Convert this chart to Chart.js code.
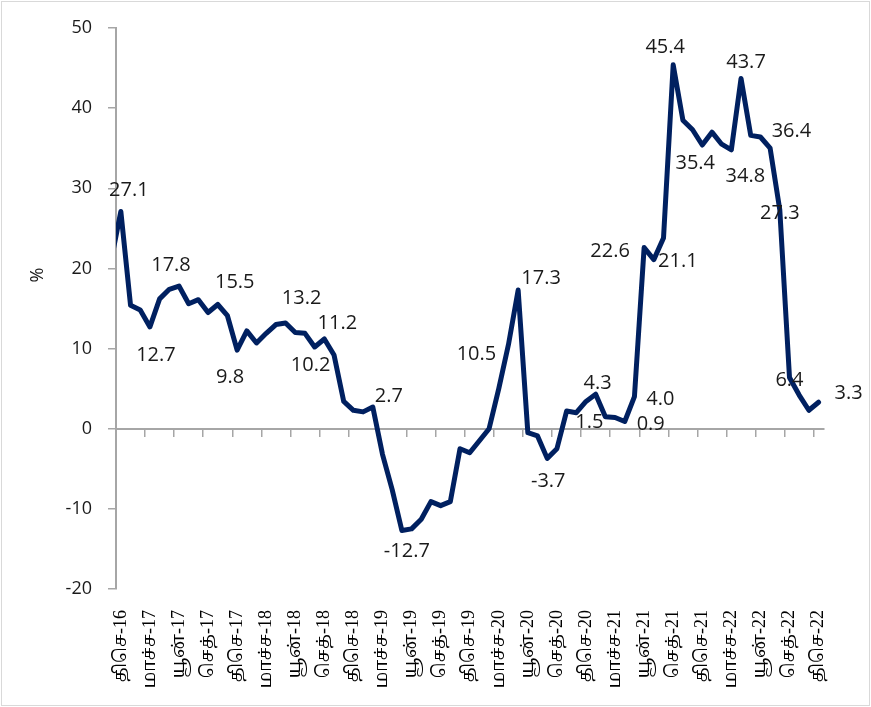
<!DOCTYPE html>
<html>
<head>
<meta charset="utf-8">
<script src="https://cdn.jsdelivr.net/npm/chart.js@4/dist/chart.umd.min.js"></script>
<style>
  html, body { margin: 0; padding: 0; background: #ffffff; }
  canvas { display: block; }
</style>
</head>
<body>
<canvas id="chart" width="871" height="707"></canvas>
<script>
// Month abbreviations, January to December
const monthNames = ['சன', 'பெப்', 'மாச்ச', 'ஏப்', 'மே', 'யூன்', 'யூலை', 'ஓக', 'செத்', 'ஒத்', 'நவ', 'திசெ'];

// Monthly categories from Nov-16 to Dec-22 (Nov-16 only leads the line into the axis)
const months = ['நவ-16', 'திசெ-16'];
for (let yy = 17; yy <= 22; yy++) {
  for (let m = 0; m < 12; m++) months.push(monthNames[m] + '-' + yy);
}

// Year-on-year change, %
const growth = [
  21.0,                                                             // Nov-16
  27.1,                                                             // Dec-16
  15.4, 14.8, 12.7, 16.2, 17.4, 17.8, 15.6, 16.1, 14.5, 15.5, 14.1, 9.8,      // 2017
  12.2, 10.7, 11.9, 13.0, 13.2, 12.0, 11.9, 10.2, 11.2, 9.2, 3.4, 2.3,        // 2018
  2.1, 2.7, -3.2, -7.6, -12.7, -12.5, -11.3, -9.1, -9.6, -9.1, -2.5, -3.0,    // 2019
  -1.5, 0.0, 5.0, 10.5, 17.3, -0.5, -0.9, -3.7, -2.5, 2.2, 2.0, 3.4,          // 2020
  4.3, 1.5, 1.4, 0.9, 4.0, 22.6, 21.1, 23.8, 45.4, 38.5, 37.3, 35.4,          // 2021
  37.0, 35.5, 34.8, 43.7, 36.6, 36.4, 35.0, 27.3, 6.4, 4.2, 2.3, 3.3          // 2022
];

// Value axis bounds and step
const yAxisRange = { min: -20, max: 50, step: 10 };

// Which months carry a value label, and where the label sits relative to the point
const valueLabels = [
  { month: 'திசெ-16', dx: 8, dy: -21 },
  { month: 'மாச்ச-17', dx: 6, dy: 28 },
  { month: 'யூன்-17', dx: -8, dy: -21 },
  { month: 'ஒத்-17', dx: 17, dy: -22 },
  { month: 'திசெ-17', dx: -7, dy: 27 },
  { month: 'மே-18', dx: 16, dy: -25 },
  { month: 'ஓக-18', dx: -4, dy: 18 },
  { month: 'செத்-18', dx: 13, dy: -16 },
  { month: 'பெப்-19', dx: 16, dy: -11 },
  { month: 'மே-19', dx: 5, dy: 21 },
  { month: 'ஏப்-20', dx: -32, dy: 10 },
  { month: 'மே-20', dx: 23, dy: -12 },
  { month: 'ஓக-20', dx: 1, dy: 23 },
  { month: 'சன-21', dx: 2, dy: -11 },
  { month: 'பெப்-21', dx: -16, dy: 6 },
  { month: 'ஏப்-21', dx: 26, dy: 3 },
  { month: 'மே-21', dx: 26, dy: 3 },
  { month: 'யூன்-21', dx: -34, dy: 4 },
  { month: 'யூலை-21', dx: 24, dy: 2 },
  { month: 'செத்-21', dx: -8, dy: -18 },
  { month: 'திசெ-21', dx: -7, dy: 18 },
  { month: 'மாச்ச-22', dx: 14, dy: 26 },
  { month: 'ஏப்-22', dx: 5, dy: -16 },
  { month: 'யூன்-22', dx: 31, dy: -6 },
  { month: 'ஓக-22', dx: 0, dy: 3 },
  { month: 'செத்-22', dx: 0, dy: 3 },
  { month: 'திசெ-22', dx: 30, dy: -9 }
];

const firstShown = 'திசெ-16';
const axisGrey = '#a6a6a6';
const numberFont = '"Open Sans", "DejaVu Sans", sans-serif';
const tamilFont = '"Liberation Serif", "Noto Serif Tamil", "Noto Sans Tamil", "Lohit Tamil", serif';

// Value labels beside selected points
const pointValueLabels = {
  id: 'pointValueLabels',
  afterDatasetsDraw(chart) {
    const meta = chart.getDatasetMeta(0);
    const ctx = chart.ctx;
    ctx.save();
    ctx.font = '400 20px ' + numberFont;
    ctx.fillStyle = '#1a1a1a';
    ctx.textAlign = 'center';
    ctx.textBaseline = 'middle';
    valueLabels.forEach(l => {
      const i = months.indexOf(l.month);
      const pt = meta.data[i];
      if (!pt) return;
      ctx.fillText(growth[i].toFixed(1), pt.x + l.dx, pt.y + l.dy);
    });
    ctx.restore();
  }
};

// Outer frame and the unit caption of the value axis
const frameAndUnit = {
  id: 'frameAndUnit',
  beforeDraw(chart) {
    const ctx = chart.ctx;
    ctx.save();
    ctx.fillStyle = '#ffffff';
    ctx.fillRect(0, 0, chart.width, chart.height);
    ctx.strokeStyle = '#d9d9d9';
    ctx.lineWidth = 1;
    ctx.strokeRect(1.5, 1.5, chart.width - 3, chart.height - 3);
    ctx.restore();
  },
  afterDraw(chart) {
    const ctx = chart.ctx;
    ctx.save();
    ctx.translate(38, chart.chartArea.top + 247);
    ctx.rotate(-Math.PI / 2);
    ctx.font = '400 18px ' + numberFont;
    ctx.fillStyle = '#1a1a1a';
    ctx.textAlign = 'center';
    ctx.textBaseline = 'middle';
    ctx.fillText('%', 0, 0);
    ctx.restore();
  }
};

new Chart(document.getElementById('chart'), {
  type: 'line',
  data: {
    labels: months,
    datasets: [{
      data: growth,
      xAxisID: 'x',
      yAxisID: 'y',
      borderColor: '#002060',
      borderWidth: 5,
      borderJoinStyle: 'round',
      borderCapStyle: 'round',
      pointRadius: 0,
      pointHoverRadius: 0,
      tension: 0,
      fill: false
    }]
  },
  options: {
    responsive: false,
    animation: false,
    events: [],
    layout: { padding: { top: 28, right: 47.6, bottom: 0, left: 0 } },
    plugins: { legend: { display: false }, tooltip: { enabled: false } },
    scales: {
      x: {
        type: 'category',
        position: 'bottom',
        min: firstShown,
        offset: true,
        grid: { display: false },
        border: { display: false },
        ticks: {
          autoSkip: false,
          minRotation: 90,
          maxRotation: 90,
          padding: 13,
          color: '#000000',
          font: { family: tamilFont, size: 18 },
          callback(value, index) {
            return index % 3 === 0 ? this.getLabelForValue(value) : '';
          }
        },
        afterFit(scale) { scale.height = 118; }
      },
      x0: {
        type: 'category',
        axis: 'x',
        position: { y: 0 },
        min: firstShown,
        offset: true,
        grid: {
          offset: true,
          drawOnChartArea: false,
          drawTicks: true,
          tickLength: 7,
          lineWidth: 1.5,
          color: (c) => (c.index % 3 === 0 ? axisGrey : 'rgba(0,0,0,0)')
        },
        border: { display: true, color: axisGrey, width: 2 },
        ticks: { display: false, autoSkip: false }
      },
      y: {
        min: yAxisRange.min,
        max: yAxisRange.max,
        grid: { drawOnChartArea: false, drawTicks: true, tickLength: 8, color: axisGrey, lineWidth: 1.5 },
        border: { display: true, color: axisGrey, width: 2 },
        ticks: {
          stepSize: yAxisRange.step,
          padding: 16,
          color: '#1a1a1a',
          font: { family: numberFont, size: 18 }
        },
        afterFit(scale) { scale.width = 116; }
      }
    }
  },
  plugins: [frameAndUnit, pointValueLabels]
});
</script>
</body>
</html>
